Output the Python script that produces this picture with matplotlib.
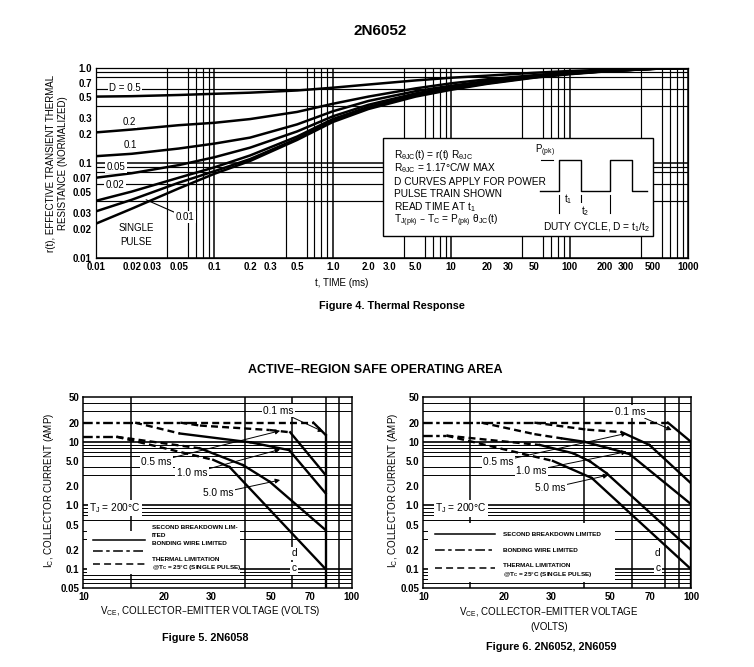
import matplotlib
matplotlib.use("Agg")
import matplotlib.pyplot as plt
import numpy as np
from matplotlib.patches import Rectangle, FancyArrowPatch
from matplotlib.lines import Line2D
from matplotlib.ticker import FixedLocator, LogLocator, NullFormatter

plt.rcParams["font.family"] = ["Liberation Sans", "DejaVu Sans"]
plt.rcParams["mathtext.default"] = "regular"
plt.rcParams["lines.scale_dashes"] = False

W, H = 754, 667

# ---- Figure 4: thermal response r(t) per duty cycle
t_ms = [0.01, 0.02, 0.05, 0.1, 0.2, 0.5, 1, 2, 5, 10, 20, 50, 100, 200, 500, 1000]
r_d050 = [0.50, 0.505, 0.52, 0.535, 0.55, 0.58, 0.62, 0.67, 0.74, 0.79, 0.83, 0.89, 0.93, 0.96, 0.99, 1.0]
r_d020 = [0.21, 0.225, 0.25, 0.265, 0.29, 0.345, 0.42, 0.50, 0.61, 0.69, 0.76, 0.84, 0.90, 0.94, 0.98, 1.0]
r_d010 = [0.118, 0.125, 0.142, 0.16, 0.185, 0.255, 0.35, 0.45, 0.57, 0.65, 0.73, 0.82, 0.88, 0.93, 0.98, 1.0]
r_d005 = [0.07, 0.078, 0.095, 0.115, 0.145, 0.215, 0.31, 0.41, 0.54, 0.63, 0.71, 0.81, 0.875, 0.93, 0.98, 1.0]
r_d002 = [0.040, 0.050, 0.070, 0.09, 0.12, 0.19, 0.29, 0.39, 0.52, 0.61, 0.70, 0.80, 0.87, 0.925, 0.98, 1.0]
r_d001 = [0.031, 0.041, 0.062, 0.082, 0.11, 0.18, 0.28, 0.38, 0.51, 0.60, 0.69, 0.80, 0.87, 0.925, 0.98, 1.0]
r_single = [0.023, 0.033, 0.054, 0.077, 0.105, 0.175, 0.27, 0.37, 0.50, 0.59, 0.68, 0.79, 0.86, 0.92, 0.98, 1.0]

duty_labels = ["D = 0.5", "0.2", "0.1", "0.05", "0.02", "0.01", "SINGLE\nPULSE"]
duty_label_t = [0.0176, 0.019, 0.0194, 0.0148, 0.0145, 0.0567, 0.0218]
duty_label_r = [0.616, 0.27, 0.155, 0.091, 0.059, 0.027, 0.0175]

t_ticks = [0.01, 0.02, 0.03, 0.05, 0.1, 0.2, 0.3, 0.5, 1, 2, 3, 5, 10, 20, 30, 50, 100, 200, 300, 500, 1000]
t_labels = ["0.01", "0.02", "0.03", "0.05", "0.1", "0.2", "0.3", "0.5", "1.0", "2.0", "3.0", "5.0",
            "10", "20", "30", "50", "100", "200", "300", "500", "1000"]
r_ticks = [0.01, 0.02, 0.03, 0.05, 0.07, 0.1, 0.2, 0.3, 0.5, 0.7, 1.0]
r_labels = ["0.01", "0.02", "0.03", "0.05", "0.07", "0.1", "0.2", "0.3", "0.5", "0.7", "1.0"]

# ---- Figures 5 and 6: safe operating area (b = bonding wire, t = thermal, s = second breakdown)
f5_v01, f5_i01, f5_s01 = [10, 25, 72, 80, 80], [20, 20, 20, 12.8, 0.05], "btss"
f5_v05, f5_i05, f5_s05 = [23, 27.2, 49.5, 59, 80], [20, 18, 15.3, 14.1, 3.0], "ttts"
f5_v1, f5_i1, f5_s1 = [15.6, 22.9, 42, 58.5, 80], [20, 13.5, 9.8, 7.4, 1.55], "tsss"
f5_v5, f5_i5, f5_s5 = [13.3, 27.2, 39.4, 49.5, 80], [12, 7.9, 4.3, 2.36, 0.41], "tsss"
f5_vdc, f5_idc, f5_sdc = [10, 13.3, 30.5, 35.1, 80], [12, 12, 5.2, 4.0, 0.1], "btss"

f6_v01, f6_i01, f6_s01 = [10, 27, 82, 100, 100], [20, 20, 20, 10, 0.05], "btss"
f6_v05, f6_i05, f6_s05 = [26, 41, 55, 70, 100], [20, 15.5, 14.2, 8.9, 2.23], "ttss"
f6_v1, f6_i1, f6_s1 = [16.5, 26, 33, 40, 50, 59, 100], [20, 13.2, 11.3, 10, 7.8, 6.4, 1.05], "ttssss"
f6_v5, f6_i5, f6_s5 = [12.2, 27.3, 36.3, 42, 48.4, 100], [12.5, 8.9, 6.6, 4.9, 3.2, 0.2], "tssss"
f6_vdc, f6_idc, f6_sdc = [10, 12.2, 30.5, 42.6, 100], [12.5, 12.5, 5.0, 2.7, 0.1], "btss"

pulse_names = ["0.1 ms", "0.5 ms", "1.0 ms", "5.0 ms"]
f5_txt_v, f5_txt_i = [53.3, 18.7, 25.4, 31.8], [30.8, 4.87, 3.2, 1.55]
f5_tip_v, f5_tip_i = [78.3, 54.1, 54.1, 54.1], [14.4, 14.9, 7.6, 2.51]
f6_txt_v, f6_txt_i = [59.2, 19.1, 25.4, 29.7], [29.7, 4.87, 3.48, 1.86]
f6_tip_v, f6_tip_i = [84.7, 57.5, 57.5, 49.1], [15.3, 13.6, 7.0, 3.0]

vce_ticks = [10, 20, 30, 50, 70, 100]
vce_grid = [15, 20, 30, 40, 50, 60, 70, 80, 90]
ic_ticks = [0.05, 0.1, 0.2, 0.5, 1.0, 2.0, 5.0, 10, 20, 50]
ic_labels = ["0.05", "0.1", "0.2", "0.5", "1.0", "2.0", "5.0", "10", "20", "50"]

fig = plt.figure(figsize=(W / 100, H / 100), dpi=100)


def fp(x, y):
    # figure pixel -> figure fraction
    return x / W, 1 - y / H


def axes_px(x0, y0, x1, y1):
    return fig.add_axes([x0 / W, 1 - y1 / H, (x1 - x0) / W, (y1 - y0) / H])


def ftext(x, y, s, **kw):
    kw.setdefault("ha", "center")
    kw.setdefault("va", "center")
    return fig.text(*fp(x, y), s, **kw)


def fline(xs, ys, **kw):
    fig.add_artist(Line2D([x / W for x in xs], [1 - y / H for y in ys], transform=fig.transFigure,
                          color="black", **kw))


def farrow(x0, y0, x1, y1, style="-|>"):
    fig.add_artist(FancyArrowPatch(fp(x0, y0), fp(x1, y1), transform=fig.transFigure,
                                   arrowstyle=style, mutation_scale=6, lw=0.8, color="black",
                                   shrinkA=0, shrinkB=0))


# ---------------- top chart ----------------
ftext(380, 31, "2N6052", fontsize=11, fontweight="bold")

ax = axes_px(96, 68, 688, 258)
ax.set_xscale("log")
ax.set_yscale("log")
ax.set_xlim(0.01, 1000)
ax.set_ylim(0.01, 1.0)
ax.xaxis.set_major_locator(FixedLocator(t_ticks))
ax.set_xticklabels(t_labels, fontweight="bold")
ax.yaxis.set_major_locator(FixedLocator(r_ticks))
ax.set_yticklabels(r_labels, fontweight="bold")
ax.xaxis.set_minor_locator(LogLocator(base=10, subs=np.arange(1, 10), numticks=60))
ax.yaxis.set_minor_locator(LogLocator(base=10, subs=np.arange(1, 10), numticks=60))
ax.xaxis.set_minor_formatter(NullFormatter())
ax.yaxis.set_minor_formatter(NullFormatter())
ax.tick_params(which="both", length=0, labelsize=7, pad=3)
ax.grid(which="minor", color="black", lw=0.85)
ax.set_axisbelow(True)
for d in [0.01, 0.1, 1, 10, 100, 1000]:
    ax.axvline(d, color="black", lw=1.1, zorder=0.6)
for d in [0.01, 0.1, 1.0]:
    ax.axhline(d, color="black", lw=1.1, zorder=0.6)
for s in ax.spines.values():
    s.set_linewidth(0.9)

for r in [r_d050, r_d020, r_d010, r_d005, r_d002, r_d001, r_single]:
    ax.plot(t_ms, r, color="black", lw=1.8, zorder=3, solid_joinstyle="round")

for k, (s, tx, ry) in enumerate(zip(duty_labels, duty_label_t, duty_label_r)):
    if s == "0.01":
        ax.annotate(s, xy=(0.0265, 0.041), xytext=(tx, ry), fontsize=7, ha="center", va="center",
                    bbox=dict(fc="white", ec="none", pad=1),
                    arrowprops=dict(arrowstyle="-", lw=0.8, color="black", shrinkA=0, shrinkB=0), zorder=4)
    else:
        ax.text(tx, ry, s, fontsize=7, ha="center", va="center", linespacing=1.5,
                bbox=dict(fc="white", ec="none", pad=1), zorder=4)

ftext(57, 163, "r(t), EFFECTIVE TRANSIENT THERMAL\nRESISTANCE (NORMALIZED)", rotation=90,
      fontsize=7, linespacing=1.2)
ftext(342, 283, "t, TIME (ms)", fontsize=7)

# info box with pulse train
fig.add_artist(Rectangle(fp(383, 236), 270 / W, 98 / H, transform=fig.transFigure,
                         fc="white", ec="black", lw=1.0, zorder=5))
box_lines = [r"$R_{\theta JC}$(t) = r(t) $R_{\theta JC}$",
             r"$R_{\theta JC}$ = 1.17°C/W MAX",
             "D CURVES APPLY FOR POWER",
             "PULSE TRAIN SHOWN",
             r"READ TIME AT $t_1$",
             r"$T_{J(pk)}$ – $T_C$ = $P_{(pk)}$ $\theta_{JC}$(t)"]
for k, s in enumerate(box_lines):
    ftext(394, [155, 168.3, 181.7, 194, 206.7, 220.7][k], s, ha="left", fontsize=7.3, zorder=6)
fline([540, 559, 559, 581, 581, 610, 610, 632, 632, 647], [191, 191, 160, 160, 191, 191, 160, 160, 191, 191],
      lw=1.0, zorder=6)
fline([541, 553], [160, 160], lw=0.8, zorder=6)
farrow(547, 160, 547, 191, "<|-|>")
ftext(545, 151, r"$P_{(pk)}$", fontsize=7, zorder=6)
fline([559, 559], [195, 213], lw=0.8, zorder=6)
fline([581, 581], [195, 203], lw=0.8, zorder=6)
fline([610, 610], [195, 213], lw=0.8, zorder=6)
farrow(541, 199.5, 559, 199.5)
farrow(600, 199.5, 581, 199.5)
ftext(568, 199, r"$t_1$", fontsize=7, zorder=6)
farrow(559, 211, 610, 211, "<|-|>")
ftext(585, 211, r"$t_2$", fontsize=7, zorder=7, bbox=dict(fc="white", ec="none", pad=0.5))
ftext(597, 227, r"DUTY CYCLE, D = $t_1$/$t_2$", fontsize=7.3, zorder=6)

ftext(392, 306, "Figure 4. Thermal Response", fontsize=7.8, fontweight="bold")
ftext(375, 370, "ACTIVE–REGION SAFE OPERATING AREA", fontsize=9, fontweight="bold")

# ---------------- SOA charts ----------------
STYLE = {"b": (0, (7, 2.5, 2.5, 2.5)), "t": (0, (5, 3)), "s": "-"}


def soa_chart(x0, x1, curves, txt_v, txt_i, tip_v, tip_i, tj_pos, dc_v):
    a = axes_px(x0, 397.3, x1, 588.3)
    a.set_xscale("log")
    a.set_yscale("log")
    a.set_xlim(10, 100)
    a.set_ylim(0.05, 50)
    a.xaxis.set_major_locator(FixedLocator(vce_ticks))
    a.set_xticklabels([str(v) for v in vce_ticks], fontweight="bold")
    a.yaxis.set_major_locator(FixedLocator(ic_ticks))
    a.set_yticklabels(ic_labels, fontweight="bold")
    a.xaxis.set_minor_locator(FixedLocator(vce_grid))
    a.yaxis.set_minor_locator(LogLocator(base=10, subs=np.arange(1, 10), numticks=60))
    a.xaxis.set_minor_formatter(NullFormatter())
    a.yaxis.set_minor_formatter(NullFormatter())
    a.tick_params(which="both", length=0, labelsize=7, pad=3)
    a.grid(which="minor", axis="y", color="black", lw=0.7)
    a.grid(which="minor", axis="x", color="black", lw=1.1)
    a.set_axisbelow(True)
    for d in [0.1, 1, 10]:
        a.axhline(d, color="black", lw=1.2, zorder=0.6)
    for s in a.spines.values():
        s.set_linewidth(1.1)
    for v, i, st in curves:
        for k in range(len(v) - 1):
            a.plot(v[k:k + 2], i[k:k + 2], color="black", lw=1.7, ls=STYLE[st[k]], zorder=3,
                   dash_capstyle="butt", solid_capstyle="projecting")
    for name, tv, ti, pv, pi in zip(pulse_names, txt_v, txt_i, tip_v, tip_i):
        a.annotate(name, xy=(pv, pi), xytext=(tv, ti), fontsize=7.3, ha="center", va="center",
                   bbox=dict(fc="white", ec="none", pad=1), zorder=5,
                   arrowprops=dict(arrowstyle="-|>", lw=0.7, color="black", mutation_scale=7,
                                   shrinkA=0, shrinkB=0))
    a.text(tj_pos[0], tj_pos[1], r"$T_J$ = 200°C", fontsize=7.3, ha="center", va="center",
           bbox=dict(fc="white", ec="none", pad=1), zorder=5)
    a.text(dc_v, 0.177, "d", fontsize=7.3, ha="center", va="center",
           bbox=dict(fc="white", ec="none", pad=1), zorder=5)
    a.text(dc_v, 0.103, "c", fontsize=7.3, ha="center", va="center",
           bbox=dict(fc="white", ec="none", pad=1), zorder=5)
    return a


ax5 = soa_chart(83.3, 351.7,
                [(f5_v01, f5_i01, f5_s01), (f5_v05, f5_i05, f5_s05), (f5_v1, f5_i1, f5_s1),
                 (f5_v5, f5_i5, f5_s5), (f5_vdc, f5_idc, f5_sdc)],
                f5_txt_v, f5_txt_i, f5_tip_v, f5_tip_i, (13.1, 0.91), 61.1)
ax6 = soa_chart(423.3, 691,
                [(f6_v01, f6_i01, f6_s01), (f6_v05, f6_i05, f6_s05), (f6_v1, f6_i1, f6_s1),
                 (f6_v5, f6_i5, f6_s5), (f6_vdc, f6_idc, f6_sdc)],
                f6_txt_v, f6_txt_i, f6_tip_v, f6_tip_i, (13.8, 0.90), 75.2)


def legend_box(a, bx0, by0, bx1, by1, lx0, lx1, ly, tx, texts):
    a.add_patch(Rectangle(fp(bx0, by1), (bx1 - bx0) / W, (by1 - by0) / H, transform=fig.transFigure,
                          fc="white", ec="none", zorder=2))
    for y, st in zip(ly, "sbt"):
        a.add_line(Line2D([lx0 / W, lx1 / W], [1 - y / H] * 2, transform=fig.transFigure,
                          color="black", lw=1.1, ls=STYLE[st], zorder=2.5))
    for y, s in texts:
        ftext(tx, y, s, ha="left", fontsize=4.6, fontweight="bold", zorder=6)


legend_box(ax5, 87, 531, 240, 574, 93, 145, [540, 550.7, 563.5], 151.5,
           [(527.8, "SECOND BREAKDOWN LIM-"), (535.8, "ITED"), (543.8, "BONDING WIRE LIMITED"),
            (559.3, "THERMAL LIMITATION"), (567.8, r"@$T_C$ = 25°C (SINGLE PULSE)")])
legend_box(ax6, 428, 523, 615, 582, 435, 495, [534, 550, 568.3], 503,
           [(535, "SECOND BREAKDOWN LIMITED"), (551, "BONDING WIRE LIMITED"),
            (565.5, "THERMAL LIMITATION"), (574.3, r"@$T_C$ = 25°C (SINGLE PULSE)")])

for xc in [49, 393.5]:
    ftext(xc, 490, r"$I_C$, COLLECTOR CURRENT (AMP)", rotation=90, fontsize=7)
ftext(210, 611.5, r"$V_{CE}$, COLLECTOR–EMITTER VOLTAGE (VOLTS)", fontsize=7)
ftext(549, 612.5, r"$V_{CE}$, COLLECTOR–EMITTER VOLTAGE", fontsize=7)
ftext(549, 627, "(VOLTS)", fontsize=7)
ftext(205, 638, "Figure 5. 2N6058", fontsize=7.8, fontweight="bold")
ftext(551, 646.5, "Figure 6. 2N6052, 2N6059", fontsize=7.8, fontweight="bold")

fig.savefig("out.png", dpi=100)
